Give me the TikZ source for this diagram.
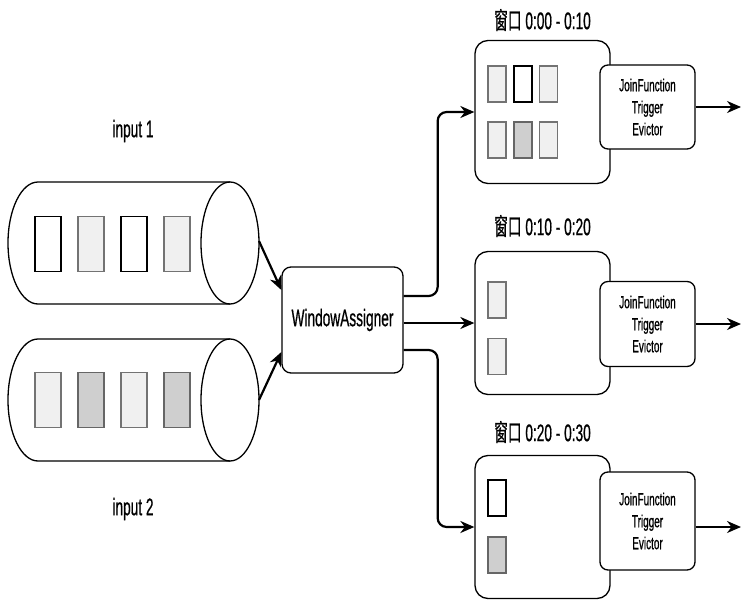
\documentclass[tikz,border=0pt]{standalone}
\usepackage{fontspec}
\setmainfont{Liberation Sans}[FakeStretch=0.57, FakeBold=0.6]
\newfontfamily\cjk{Noto Sans CJK SC}[FakeStretch=0.57, FakeBold=0.6]
\usetikzlibrary{arrows.meta}

\tikzset{
	pipe/.style={line width=1.3pt},
	slot/.style={draw, line width=1.1pt, inner sep=0pt, minimum width=26pt, minimum height=55pt},
	wslot/.style={draw, line width=1.1pt, inner sep=0pt, minimum width=18pt, minimum height=36pt},
	light/.style={fill=gray!12, draw=black!55},
	mid/.style={fill=gray!38, draw=black!60},
	assigner/.style={draw, line width=1.3pt, rounded corners=9pt, minimum width=121pt, minimum height=106pt, font=\fontsize{24}{28}\selectfont},
	win/.style={draw, line width=1.3pt, rounded corners=13pt, minimum width=135pt, minimum height=143pt},
	fbox/.style={draw, fill=white, line width=1.3pt, rounded corners=8pt, minimum width=95pt, align=center, font=\fontsize{17.5}{22}\selectfont},
	tag/.style={font=\fontsize{24}{28}\selectfont},
	flow/.style={line width=2.2pt, -{Stealth[length=14pt,width=12pt]}},
}

\begin{document}
\begin{tikzpicture}[x=1pt,y=-1pt]
	\useasboundingbox (0,0) rectangle (749,604);

	% input streams
	\begin{scope}[pipe]
		\draw (230,182) -- (38,182) arc[start angle=270, end angle=90, x radius=30, y radius=61] -- (230,304);
		\draw (230,243) ellipse [x radius=29, y radius=61];
		\draw (230,339) -- (38,339) arc[start angle=270, end angle=90, x radius=30, y radius=61] -- (230,461);
		\draw (230,400) ellipse [x radius=29, y radius=61];
	\end{scope}
	\coordinate (c1) at (259,241);
	\coordinate (c2) at (259,400);

	\node[slot] (a1) at (48,244) {};
	\node[slot, light] (a2) at (91,244) {};
	\node[slot] (a3) at (134,244) {};
	\node[slot, light] (a4) at (177,244) {};

	\node[slot, light] (b1) at (48,400) {};
	\node[slot, mid] (b2) at (91,400) {};
	\node[slot, light] (b3) at (134,400) {};
	\node[slot, mid] (b4) at (177,400) {};

	\node[tag] (in1) at (133,131) {input 1};
	\node[tag] (in2) at (133,509) {input 2};

	\node[assigner] (wa) at (342.5,320) {WindowAssigner};

	% windows
	\node[win] (w1) at (542.5,112) {};
	\node[win] (w2) at (542.5,323) {};
	\node[win] (w3) at (542.5,527) {};

	\node[tag] (l1) at (542.5,20) {{\cjk 窗口} 0:00 - 0:10};
	\node[tag] (l2) at (542.5,226) {{\cjk 窗口} 0:10 - 0:20};
	\node[tag] (l3) at (542.5,432) {{\cjk 窗口} 0:20 - 0:30};

	\node[wslot, light] (s11) at (497,84) {};
	\node[wslot] (s12) at (523,84) {};
	\node[wslot, light] (s13) at (548.5,84) {};
	\node[wslot, light] (s14) at (497,140) {};
	\node[wslot, mid] (s15) at (523,140) {};
	\node[wslot, light] (s16) at (548.5,140) {};

	\node[wslot, light] (s21) at (497,300) {};
	\node[wslot, light] (s22) at (497,356.5) {};

	\node[wslot] (s31) at (497,498) {};
	\node[wslot, mid] (s32) at (497,555) {};

	\node[fbox, minimum height=84pt] (f1) at (647.5,107) {JoinFunction\\Trigger\\Evictor};
	\node[fbox, minimum height=85pt] (f2) at (647.5,324) {JoinFunction\\Trigger\\Evictor};
	\node[fbox, minimum height=98pt] (f3) at (647.5,521) {JoinFunction\\Trigger\\Evictor};

	\coordinate (o1) at (741,107);
	\coordinate (o2) at (741,324);
	\coordinate (o3) at (741,527);

	% connectors
	\draw[flow] (c1) to ([yshift=30pt]wa.west);
	\draw[flow] (c2) to ([yshift=-32pt]wa.west);
	\draw[flow, rounded corners=9pt] ([yshift=24pt]wa.east) -- ++(34,0) |- (w1.west);
	\draw[flow] (wa.east |- w2.west) -- (w2.west);
	\draw[flow, rounded corners=9pt] ([yshift=-30pt]wa.east) -- ++(34,0) |- (w3.west);
	\draw[flow] (f1.east) -- (o1);
	\draw[flow] (f2.east) -- (o2);
	\draw[flow] (f3.east |- o3) -- (o3);
\end{tikzpicture}
\end{document}
